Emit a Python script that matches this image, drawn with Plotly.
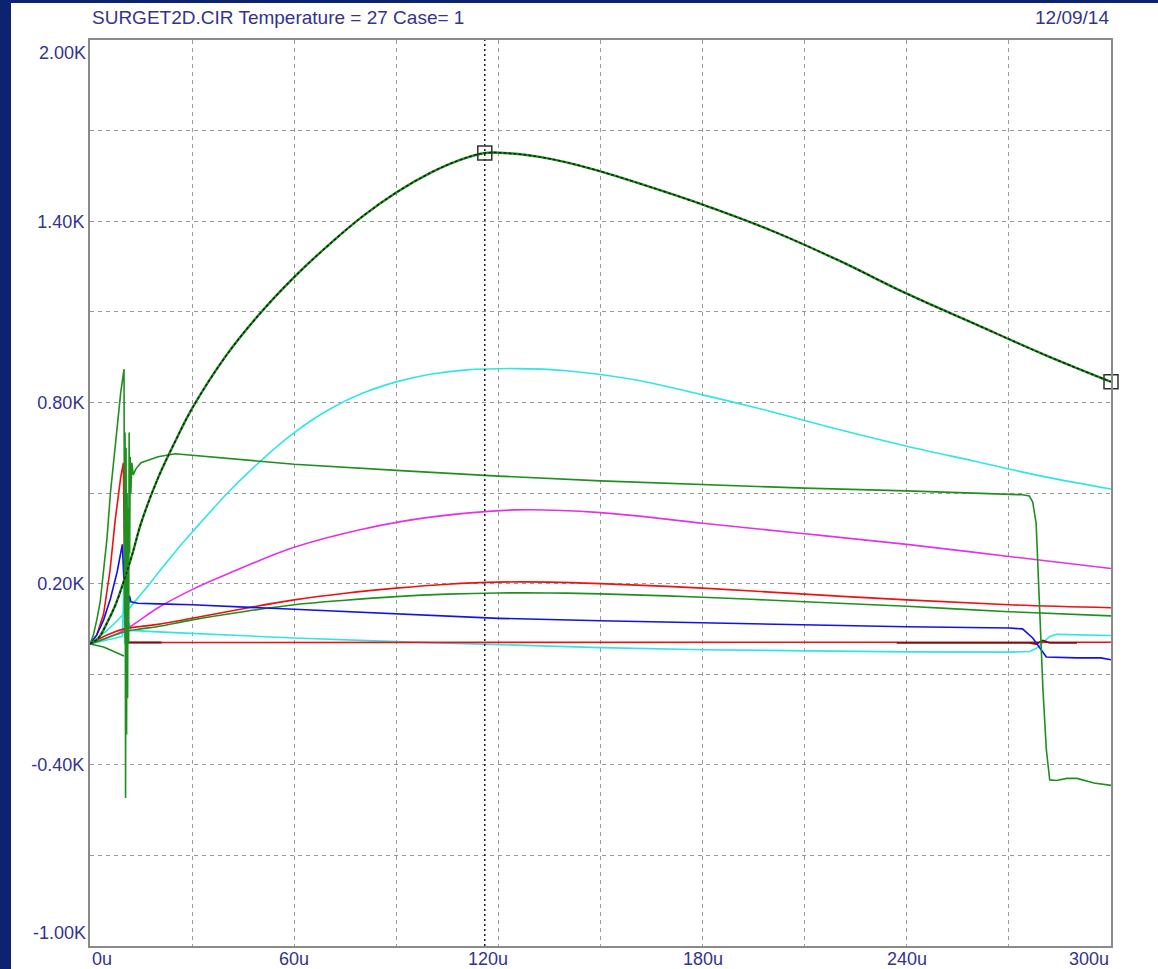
import numpy as np
import plotly.graph_objects as go

# ---------------- data (time in us, voltage in kV) ----------------
title_left = "SURGET2D.CIR Temperature = 27 Case= 1"
title_right = "12/09/14"

x_tick_vals = [0, 30, 60, 90, 120, 150, 180, 210, 240, 270, 300]
x_label_vals = [0, 60, 120, 180, 240, 300]
x_label_text = ["0u", "60u", "120u", "180u", "240u", "300u"]
y_tick_vals = [-1.0, -0.7, -0.4, -0.1, 0.2, 0.5, 0.8, 1.1, 1.4, 1.7, 2.0]
y_tick_text = ["", "", "-0.40K", "", "0.20K", "", "0.80K", "", "1.40K", "", ""]
y_edge_text = ["-1.00K", "2.00K"]

t_big = [0, 2.5, 5, 7.5, 10, 12.5, 15, 20, 25, 30, 40, 50, 60, 70, 80, 90, 100, 108, 116,
         124, 132, 140, 150, 160, 180, 200, 220, 240, 260, 280, 300]
v_big = [0, 0.02, 0.07, 0.13, 0.21, 0.30, 0.40, 0.55, 0.67, 0.78, 0.955, 1.095, 1.215, 1.32,
         1.415, 1.495, 1.56, 1.60, 1.626, 1.624, 1.613, 1.595, 1.565, 1.53, 1.455, 1.37, 1.27,
         1.16, 1.06, 0.96, 0.868]

t_cyan_big = [0, 5, 10, 15, 20, 25, 30, 40, 50, 60, 70, 80, 90, 100, 110, 125, 140, 160, 180,
              200, 220, 240, 260, 280, 300]
v_cyan_big = [0, 0.045, 0.10, 0.165, 0.235, 0.305, 0.37, 0.495, 0.605, 0.70, 0.775, 0.83, 0.868,
              0.893, 0.907, 0.912, 0.905, 0.875, 0.825, 0.77, 0.71, 0.655, 0.605, 0.555, 0.513]

t_magenta = [0, 10, 20, 30, 40, 60, 80, 100, 125, 150, 180, 210, 240, 270, 300]
v_magenta = [0, 0.045, 0.12, 0.18, 0.23, 0.32, 0.38, 0.42, 0.444, 0.435, 0.40, 0.365, 0.33, 0.29, 0.25]

t_red_hump = [0, 5, 10, 20, 30, 45, 60, 75, 90, 105, 120, 135, 150, 180, 210, 240, 270, 300]
v_red_hump = [0, 0.03, 0.05, 0.065, 0.085, 0.117, 0.146, 0.168, 0.185, 0.198, 0.205, 0.205, 0.2,
              0.185, 0.165, 0.146, 0.13, 0.12]

t_green_hump = [0, 5, 10, 15, 20, 30, 45, 60, 75, 90, 105, 120, 135, 150, 180, 210, 240, 270, 300]
v_green_hump = [0, 0.02, 0.04, 0.05, 0.058, 0.08, 0.107, 0.13, 0.145, 0.157, 0.165, 0.169, 0.169,
                0.166, 0.155, 0.14, 0.125, 0.107, 0.093]

t_green_dip = [0, 4, 6, 8, 9.5, 10]
v_green_dip = [0, -0.01, -0.02, -0.03, -0.035, -0.04]

t_green_spike = [0, 1, 1.5, 2, 3, 4, 5, 6, 7, 8, 9, 10, 10.15, 10.3, 10.45, 10.6, 10.75, 10.9, 11.05,
                 11.2, 11.35, 11.5, 11.65, 11.8, 12, 12.3, 12.7, 13.5, 15, 20, 25, 30, 45, 60, 90,
                 120, 150, 180, 210, 240, 255, 270, 274, 276, 277, 278, 279, 280, 281, 282, 284,
                 287, 290, 295, 300]
v_green_spike = [0, 0.03, 0.056, 0.08, 0.14, 0.24, 0.35, 0.5, 0.62, 0.72, 0.83, 0.91, 0.1, 0.7,
                 -0.51, 0.65, -0.3, 0.5, -0.18, 0.45, 0.0, 0.7, 0.3, 0.62, 0.5, 0.6, 0.56, 0.58,
                 0.6, 0.62, 0.63, 0.625, 0.61, 0.595, 0.575, 0.556, 0.54, 0.527, 0.516, 0.507,
                 0.502, 0.497, 0.494, 0.49, 0.47, 0.4, 0.1, -0.15, -0.35, -0.45, -0.452, -0.445,
                 -0.445, -0.46, -0.468]

t_blue = [0, 2, 4, 6, 8, 9.5, 10, 10.2, 10.4, 10.6, 10.8, 11, 11.3, 11.6, 12, 14, 20, 30, 60, 90,
          120, 150, 180, 210, 240, 270, 274, 277, 279, 281, 290, 297, 300]
v_blue = [0, 0.03, 0.08, 0.15, 0.24, 0.33, 0.2, 0.28, 0.1, 0.22, 0.12, 0.18, 0.13, 0.16, 0.14,
          0.135, 0.133, 0.13, 0.115, 0.1, 0.085, 0.077, 0.07, 0.062, 0.057, 0.053, 0.05, 0.02,
          -0.01, -0.043, -0.046, -0.046, -0.052]

t_red_spike = [0, 2, 4, 5.9, 7.4, 9, 9.8, 10.1, 10.4, 10.8, 12, 60, 120, 180, 240, 300]
v_red_spike = [0, 0.03, 0.1, 0.245, 0.41, 0.55, 0.6, 0.3, 0.02, 0.005, 0.005, 0.005, 0.005,
               0.005, 0.005, 0.006]

t_cyan_low = [0, 5, 9.5, 10, 10.2, 10.4, 10.6, 10.8, 11, 11.5, 12, 20, 30, 60, 90, 120, 150, 180,
              210, 240, 270, 276, 278, 280, 282, 284, 290, 300]
v_cyan_low = [0, 0.012, 0.025, 0.2, 0.0, 0.15, 0.02, 0.1, 0.04, 0.07, 0.045, 0.04, 0.035, 0.02,
              0.008, -0.003, -0.012, -0.019, -0.023, -0.026, -0.027, -0.025, -0.015, 0.005, 0.025,
              0.032, 0.03, 0.028]

t_maroon = [10.5, 21, None, 237, 276, 278, 280, 282, 290]
v_maroon = [0.005, 0.005, None, 0.004, 0.004, 0.0, 0.012, 0.004, 0.004]

cursor_t = [116, 300]

# ---------------- figure ----------------
W, H = 1158, 969
ML, MR, MT, MB = 90, 47, 40, 23
PW, PH = W - ML - MR, H - MT - MB

text_color = "#33338f"
font_family = "Liberation Sans, Arial, sans-serif"
tick_font = dict(family=font_family, size=18, color=text_color)
title_font = dict(family=font_family, size=19, color=text_color)

fig = go.Figure()


def add_line(t, v, color, width=1.6, shape="linear", dash="solid"):
    fig.add_trace(go.Scatter(x=t, y=v, mode="lines", line=dict(color=color, width=width,
                                                              shape=shape, dash=dash),
                             connectgaps=False, hoverinfo="skip", showlegend=False))


add_line(t_cyan_low, v_cyan_low, "#2ee6e6")
add_line(t_red_spike, v_red_spike, "#ee1111")
add_line(t_maroon, v_maroon, "#7a1010", width=1.8)
add_line(t_magenta, v_magenta, "#e630e6", shape="spline")
add_line(t_cyan_big, v_cyan_big, "#2ee6e6", shape="spline")
add_line(t_red_hump, v_red_hump, "#ee1111", shape="spline")
add_line(t_green_hump, v_green_hump, "#1f8f1f", shape="spline")
add_line(t_green_dip, v_green_dip, "#1f8f1f")
add_line(t_blue, v_blue, "#1111ee")
add_line(t_green_spike, v_green_spike, "#1f8f1f")
add_line(t_big, v_big, "#1f8f1f", width=2.4, shape="spline")
add_line(t_big, v_big, "#102010", width=1.4, shape="spline", dash="3px,2px")

# cursor line and cursor markers
fig.add_trace(go.Scatter(x=[cursor_t[0], cursor_t[0]], y=[y_tick_vals[0], y_tick_vals[-1]],
                         mode="lines", line=dict(color="#202020", width=1.5, dash="2px,3px"),
                         hoverinfo="skip", showlegend=False))
cur_v = list(np.interp(cursor_t, t_big, v_big))
fig.add_trace(go.Scatter(x=cursor_t, y=cur_v, mode="markers", cliponaxis=False,
                         marker=dict(symbol="square-open", size=14, color="#303030",
                                     line=dict(width=1.5, color="#303030")),
                         hoverinfo="skip", showlegend=False))

# white card behind everything
fig.add_shape(type="rect", xref="paper", yref="paper", layer="below",
              x0=(11 - ML) / PW, x1=(W + 5 - ML) / PW,
              y0=(-(H - MT - PH) - 10) / PH, y1=(PH + MT - 3) / PH,
              fillcolor="white", line=dict(width=0))

axis_common = dict(showgrid=True, gridcolor="#9a9a9a", griddash="4px,4px", gridwidth=1,
                   showline=True, linecolor="#8a8a8a", linewidth=2, mirror=True,
                   zeroline=False, ticks="", tickfont=tick_font, automargin=False)

annotations = [
    dict(text=title_left, xref="paper", yref="paper", x=0, y=1, xanchor="left",
         yanchor="bottom", yshift=10, showarrow=False, font=title_font),
    dict(text=title_right, xref="paper", yref="paper", x=1, y=1, xanchor="right",
         yanchor="bottom", yshift=10, showarrow=False, font=title_font),
    dict(text=y_edge_text[0], xref="paper", yref="y", x=0, y=y_tick_vals[0], xanchor="right",
         yanchor="bottom", xshift=-2, yshift=1, showarrow=False, font=tick_font),
    dict(text=y_edge_text[1], xref="paper", yref="y", x=0, y=y_tick_vals[-1], xanchor="right",
         yanchor="top", xshift=-2, yshift=-1, showarrow=False, font=tick_font),
]
# x-axis labels (first and last aligned inward, as in the original)
for i, (xv, xt) in enumerate(zip(x_label_vals, x_label_text)):
    anchor = "left" if i == 0 else ("right" if i == len(x_label_vals) - 1 else "center")
    annotations.append(dict(text=xt, xref="x", yref="paper", x=xv, y=0, xanchor=anchor,
                            yanchor="top", yshift=-1, xshift=(-10 if xv == 120 else 0),
                            showarrow=False, font=tick_font))

fig.update_layout(
    width=W, height=H,
    margin=dict(l=ML, r=MR, t=MT, b=MB, pad=0, autoexpand=False),
    paper_bgcolor="#0b2370",
    plot_bgcolor="white",
    xaxis=dict(range=[x_tick_vals[0], x_tick_vals[-1]], tickmode="array",
               tickvals=x_tick_vals, showticklabels=False, **axis_common),
    yaxis=dict(range=[y_tick_vals[0], y_tick_vals[-1]], tickmode="array",
               tickvals=y_tick_vals, ticktext=y_tick_text, **axis_common),
    annotations=annotations,
)

fig.write_html(
    "out.html",
    config={"displayModeBar": False},
    post_script="document.body.style.margin='0';document.body.style.background='#0b2370';",
)
